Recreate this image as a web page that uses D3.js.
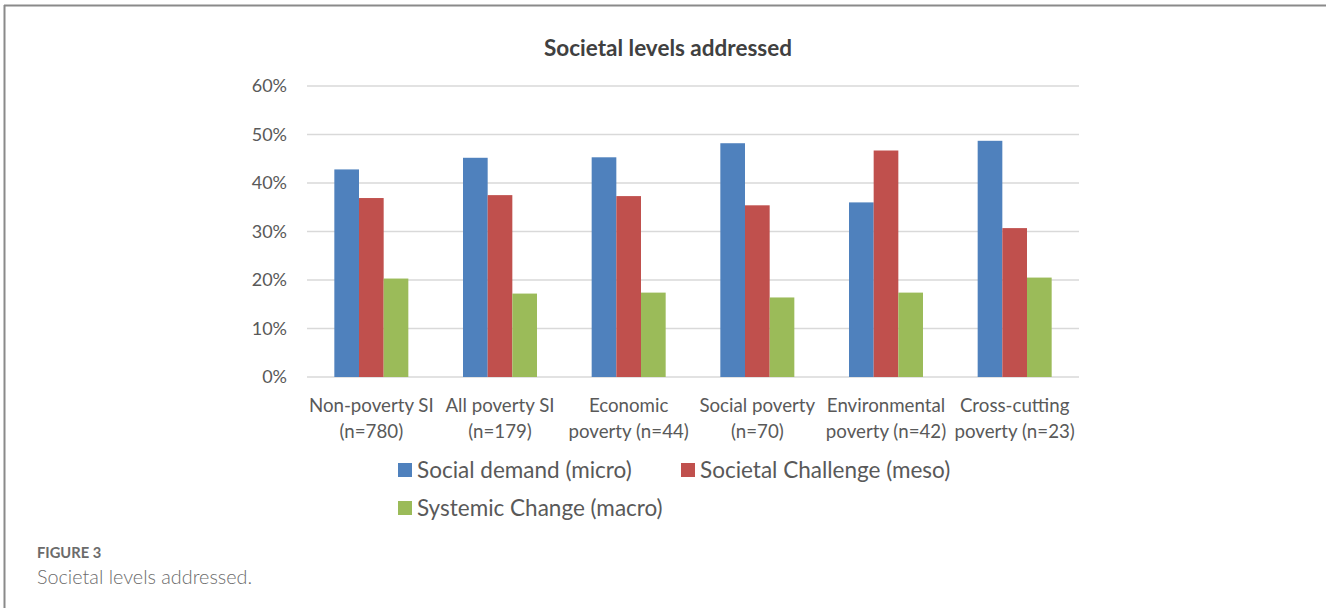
<!DOCTYPE html>
<html>
<head>
<meta charset="utf-8">
<script src="https://cdn.jsdelivr.net/npm/d3@7"></script>
<style>
  html, body { margin: 0; padding: 0; background: #fff; }
  svg { display: block; }
</style>
</head>
<body>
<svg id="chart" width="1326" height="608"></svg>
<script>
// chart data
const categories = [
  ['Non-poverty SI', '(n=780)'],
  ['All poverty SI', '(n=179)'],
  ['Economic', 'poverty (n=44)'],
  ['Social poverty', '(n=70)'],
  ['Environmental', 'poverty (n=42)'],
  ['Cross-cutting', 'poverty (n=23)']
];
const seriesNames = ['Social demand (micro)', 'Societal Challenge (meso)', 'Systemic Change (macro)'];
const microValues = [0.428, 0.452, 0.453, 0.482, 0.360, 0.487];
const mesoValues  = [0.369, 0.375, 0.373, 0.354, 0.467, 0.307];
const macroValues = [0.203, 0.172, 0.174, 0.164, 0.174, 0.205];
const yTicks = [0, 0.1, 0.2, 0.3, 0.4, 0.5, 0.6];
const colors = ['#4f81bd', '#c0504d', '#9bbb59'];

const series = [microValues, mesoValues, macroValues];
const font = 'Lato, "Open Sans", sans-serif';

const svg = d3.select('#chart');

// frame lines (top and left)
svg.append('line').attr('x1', 4).attr('x2', 1326).attr('y1', 5.5).attr('y2', 5.5)
  .attr('stroke', '#8a8a8a').attr('stroke-width', 2);
svg.append('line').attr('x1', 4.5).attr('x2', 4.5).attr('y1', 5).attr('y2', 608)
  .attr('stroke', '#8a8a8a').attr('stroke-width', 2);

const plot = { left: 307, right: 1079, top: 86, bottom: 377 };

const x0 = d3.scaleBand()
  .domain(d3.range(categories.length))
  .range([plot.left, plot.right]);

const groupWidth = 74;
const x1 = d3.scaleBand()
  .domain(d3.range(series.length))
  .range([0, groupWidth]);

const y = d3.scaleLinear()
  .domain([0, 0.6])
  .range([plot.bottom, plot.top]);

// title
svg.append('text')
  .attr('x', 668).attr('y', 56)
  .attr('text-anchor', 'middle')
  .style('font-family', font)
  .style('font-size', '22.5px')
  .style('font-weight', 'bold')
  .attr('fill', '#404040')
  .text('Societal levels addressed');

// gridlines
svg.append('g')
  .selectAll('line')
  .data(yTicks)
  .enter()
  .append('line')
  .attr('x1', plot.left).attr('x2', plot.right)
  .attr('y1', d => y(d)).attr('y2', d => y(d))
  .attr('stroke', '#d9d9d9')
  .attr('stroke-width', 1.5);

// y axis
const yAxis = svg.append('g')
  .attr('transform', 'translate(' + (plot.left - 20) + ',0)')
  .call(d3.axisLeft(y).tickValues(yTicks).tickFormat(d3.format('.0%')).tickSize(0).tickPadding(0));
yAxis.select('.domain').remove();
yAxis.selectAll('text')
  .style('font-family', font)
  .style('font-size', '18px')
  .attr('fill', '#595959');

// bars
const groups = svg.append('g')
  .selectAll('g')
  .data(categories.map((c, i) => i))
  .enter()
  .append('g')
  .attr('transform', i => 'translate(' + (x0(i) + (x0.bandwidth() - groupWidth) / 2) + ',0)');

groups.selectAll('rect')
  .data(i => series.map((s, k) => ({ k: k, v: s[i] })))
  .enter()
  .append('rect')
  .attr('x', d => x1(d.k))
  .attr('y', d => y(d.v))
  .attr('width', x1.bandwidth())
  .attr('height', d => plot.bottom - y(d.v))
  .attr('fill', d => colors[d.k]);

// x axis labels
const xLabels = svg.append('g')
  .selectAll('text')
  .data(categories)
  .enter()
  .append('text')
  .attr('y', 412)
  .attr('text-anchor', 'middle')
  .style('font-family', font)
  .style('font-size', '18.7px')
  .attr('fill', '#595959');
xLabels.append('tspan').attr('x', (d, i) => x0(i) + x0.bandwidth() / 2).text(d => d[0]);
xLabels.append('tspan').attr('x', (d, i) => x0(i) + x0.bandwidth() / 2).attr('dy', 26).text(d => d[1]);

// legend
const legendPos = [[398, 470], [681, 470], [398, 508]];
const legend = svg.append('g')
  .selectAll('g')
  .data(seriesNames)
  .enter()
  .append('g')
  .attr('transform', (d, i) => 'translate(' + legendPos[i][0] + ',' + legendPos[i][1] + ')');
legend.append('rect')
  .attr('x', 0).attr('y', -7).attr('width', 14).attr('height', 14)
  .attr('fill', (d, i) => colors[i]);
legend.append('text')
  .attr('x', 19).attr('y', 8)
  .style('font-family', font)
  .style('font-size', '22.5px')
  .attr('fill', '#595959')
  .text(d => d);

// caption
svg.append('text')
  .attr('x', 37).attr('y', 558)
  .style('font-family', font)
  .style('font-size', '14.7px')
  .style('font-weight', 'bold')
  .attr('fill', '#6b6b6b')
  .text('FIGURE 3');
svg.append('text')
  .attr('x', 37).attr('y', 584)
  .style('font-family', font)
  .style('font-size', '19.8px')
  .style('font-weight', '300')
  .attr('fill', '#6b6b6b')
  .text('Societal levels addressed.');
</script>
</body>
</html>
